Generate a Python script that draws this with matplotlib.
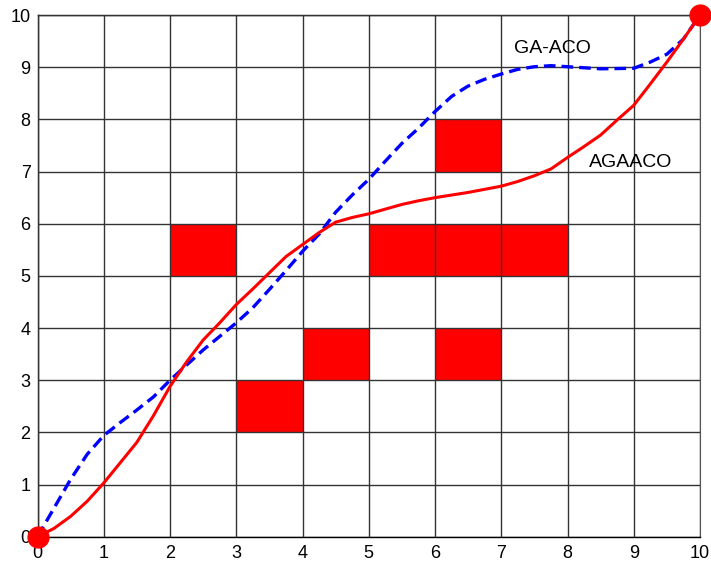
import matplotlib.pyplot as plt
from matplotlib.patches import Rectangle

plt.rcParams['font.family'] = ['Liberation Sans', 'DejaVu Sans']

# obstacle cells (lower-left corners)
obstacles = [(2, 5), (3, 2), (4, 3), (5, 5), (6, 5), (7, 5), (6, 7), (6, 3)]

# GA-ACO path (blue dashed)
ga_x = [0, 0.25, 0.5, 0.75, 1, 1.25, 1.5, 1.75, 2, 2.25, 2.5, 2.75, 3, 3.25, 3.5, 3.75, 4,
        4.25, 4.5, 4.75, 5, 5.25, 5.5, 5.75, 6, 6.25, 6.5, 6.75, 7, 7.25, 7.5, 7.75, 8,
        8.5, 9, 9.25, 9.5, 9.75, 10]
ga_y = [0, 0.55, 1.1, 1.58, 1.94, 2.19, 2.43, 2.68, 3.0, 3.29, 3.58, 3.84, 4.1, 4.39, 4.74, 5.1, 5.47,
        5.8, 6.22, 6.55, 6.85, 7.2, 7.54, 7.83, 8.15, 8.44, 8.64, 8.77, 8.87, 8.96, 9.01, 9.03, 9.01,
        8.97, 8.98, 9.1, 9.25, 9.54, 10]

# AGAACO path (red solid)
ag_x = [0, 0.25, 0.5, 0.75, 1, 1.25, 1.5, 1.75, 2, 2.25, 2.5, 2.75, 3, 3.25, 3.5, 3.75, 4,
        4.25, 4.5, 4.75, 5, 5.25, 5.5, 5.75, 6, 6.25, 6.5, 6.75, 7, 7.25, 7.5, 7.75, 8,
        8.25, 8.5, 8.75, 9, 9.25, 9.5, 9.75, 10]
ag_y = [0, 0.16, 0.39, 0.68, 1.03, 1.42, 1.81, 2.32, 2.88, 3.35, 3.77, 4.1, 4.45, 4.75, 5.06, 5.37, 5.6,
        5.83, 6.03, 6.12, 6.19, 6.28, 6.37, 6.44, 6.5, 6.55, 6.6, 6.66, 6.72, 6.81, 6.92, 7.05, 7.27,
        7.48, 7.7, 7.99, 8.27, 8.68, 9.1, 9.54, 10]

fig = plt.figure(figsize=(7.11, 5.67), dpi=100)
ax = fig.add_axes([37.5 / 711, 0.0534, 662.5 / 711, 0.920])

for (cx, cy) in obstacles:
    ax.add_patch(Rectangle((cx, cy), 1, 1, facecolor='#ff0000', edgecolor='none', zorder=1))

ax.set_xlim(0, 10)
ax.set_ylim(0, 10)
ax.set_xticks(range(11))
ax.set_yticks(range(11))
ax.grid(True, color='#333333', linewidth=1.0, zorder=2)
ax.set_axisbelow(False)
ax.tick_params(length=0, labelsize=13)
ax.tick_params(axis='y', pad=5)
ax.tick_params(axis='x', pad=6)
for side in ['left', 'bottom', 'top']:
    ax.spines[side].set_color('#000000')
    ax.spines[side].set_linewidth(1.0)
ax.spines['right'].set_color('#555555')

ax.plot(ga_x, ga_y, color='#0000ff', linestyle='--', linewidth=2.4, dashes=(3.5, 1.8), zorder=3)
ax.plot(ag_x, ag_y, color='#ff0000', linestyle='-', linewidth=2.2, zorder=3)
ax.plot([0, 10], [0, 10], 'o', color='#ff0000', markersize=15, linestyle='none', clip_on=False, zorder=4)

ax.text(7.19, 9.36, 'GA-ACO', fontsize=14, ha='left', va='center', zorder=5)
ax.text(8.33, 7.18, 'AGAACO', fontsize=14, ha='left', va='center', zorder=5)

fig.savefig('out.png', dpi=100)
